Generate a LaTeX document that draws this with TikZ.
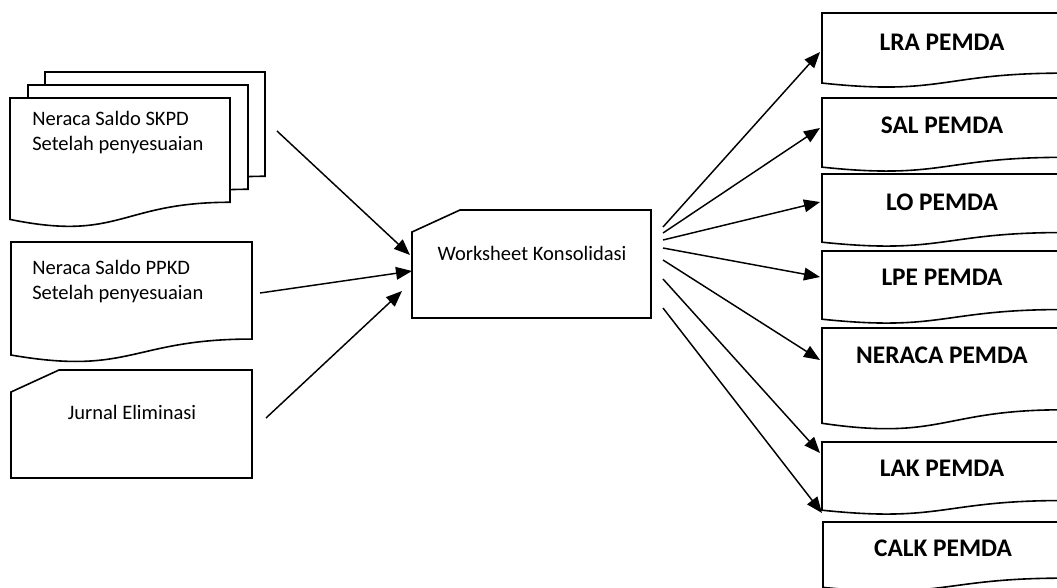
\documentclass[tikz,border=0pt]{standalone}
\usepackage{fontspec}
\setmainfont{Carlito}
\usepackage{tikz}
\usetikzlibrary{arrows.meta,positioning}

% document with wavy bottom: left, top, width, height
\newcommand{\wavedoc}[4]{%
  \filldraw[docline] (#1,#2) -- ++(#3,0) -- ++(0,0.802*#4)
    .. controls +(-0.5*#3,0) and (#1+0.5*#3,#2+1.107*#4) .. (#1,#2+0.934*#4) -- cycle;}
% card with cut corner: left, top, width, height
\newcommand{\carddoc}[4]{%
  \filldraw[docline] (#1,#2+22) -- (#1+48,#2) -- (#1+#3,#2) -- (#1+#3,#2+#4) -- (#1,#2+#4) -- cycle;}

\begin{document}
\begin{tikzpicture}[
  x=0.75pt, y=-0.75pt,
  docline/.style={draw, fill=white, line width=1.2pt},
  lbl/.style={font=\fontsize{15.4}{18.75}\selectfont, inner sep=0, align=left},
  head/.style={font=\fontsize{19}{23}\selectfont\bfseries, inner sep=0},
  arrow/.style={-{Triangle[length=12pt,width=9.5pt]}, line width=1.1pt}
]
\clip (0,0) rectangle (1057,587);

% inputs
\wavedoc{45}{72}{220}{130}
\wavedoc{28}{85}{220}{130}
\wavedoc{10}{98}{220}{130}
\wavedoc{11}{242}{241}{121}
\carddoc{11}{370}{241}{108}
\node[lbl, anchor=north west] (skpd) at (32,111) {Neraca Saldo SKPD\\Setelah penyesuaian};
\node[lbl, anchor=north west] (ppkd) at (32,260) {Neraca Saldo PPKD\\Setelah penyesuaian};
\node[lbl] (jurnal) at (132,412) {Jurnal Eliminasi};

% worksheet
\carddoc{412}{210}{239}{108}
\node[lbl] (ws) at (532,253) {Worksheet Konsolidasi};

% outputs
\wavedoc{822}{13}{240}{75}
\wavedoc{822}{98}{240}{74}
\wavedoc{822}{174}{240}{73}
\wavedoc{822}{251}{240}{73}
\wavedoc{822}{328}{240}{102}
\wavedoc{822}{442}{240}{73}
\wavedoc{823}{522}{240}{70}
\node[head] (lra) at (942,42) {LRA PEMDA};
\node[head] (sal) at (942,125) {SAL PEMDA};
\node[head] (lo) at (942,202) {LO PEMDA};
\node[head] (lpe) at (942,277) {LPE PEMDA};
\node[head] (neraca) at (942,355) {NERACA PEMDA};
\node[head] (lak) at (942,468) {LAK PEMDA};
\node[head] (calk) at (943,548) {CALK PEMDA};

% arrow ends
\coordinate (skpd-out) at (277,131);
\coordinate (ppkd-out) at (260,293);
\coordinate (jurnal-out) at (266,418);
\coordinate (ws-in1) at (410,255);
\coordinate (ws-in2) at (412,271);
\coordinate (ws-in3) at (402,291);
\coordinate (ws-out1) at (663,227);
\coordinate (ws-out2) at (663,233);
\coordinate (ws-out3) at (663,240);
\coordinate (ws-out4) at (663,248);
\coordinate (ws-out5) at (663,260);
\coordinate (ws-out6) at (663,279);
\coordinate (ws-out7) at (663,308);
\coordinate (lra-in) at (820,52);
\coordinate (sal-in) at (820,128);
\coordinate (lo-in) at (820,202);
\coordinate (lpe-in) at (820,277);
\coordinate (neraca-in) at (820,360);
\coordinate (lak-in) at (820,453);
\coordinate (calk-in) at (822,513);

\draw[arrow] (skpd-out) -- (ws-in1);
\draw[arrow] (ppkd-out) -- (ws-in2);
\draw[arrow] (jurnal-out) -- (ws-in3);
\draw[arrow] (ws-out1) -- (lra-in);
\draw[arrow] (ws-out2) -- (sal-in);
\draw[arrow] (ws-out3) -- (lo-in);
\draw[arrow] (ws-out4) -- (lpe-in);
\draw[arrow] (ws-out5) -- (neraca-in);
\draw[arrow] (ws-out6) -- (lak-in);
\draw[arrow] (ws-out7) -- (calk-in);
\end{tikzpicture}
\end{document}
